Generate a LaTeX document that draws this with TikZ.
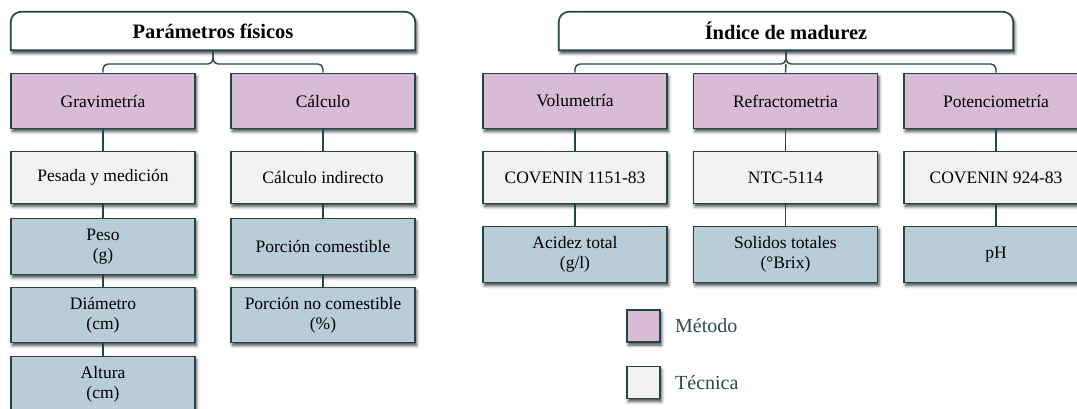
\documentclass[tikz,border=0pt]{standalone}
\usepackage{fontspec}
\setmainfont{Liberation Serif}
\usetikzlibrary{shadows.blur}

\definecolor{metodo}{HTML}{D8BBD5}
\definecolor{tecnica}{HTML}{F2F2F2}
\definecolor{medida}{HTML}{B8CDD8}
\definecolor{edge}{HTML}{244545}
\definecolor{legtext}{HTML}{2B4B4B}

\tikzset{
  soft/.style={blur shadow={shadow xshift=1.5pt, shadow yshift=-3pt,
      shadow blur radius=3pt, shadow opacity=75}},
  cell/.style={draw=edge, line width=1.7pt, minimum width=184pt, inner sep=0pt,
      align=center, font=\fontsize{17.5}{20}\selectfont, text=black, soft},
  metbox/.style={cell, fill=metodo, minimum height=55pt},
  tecbox/.style={cell, fill=tecnica, minimum height=52pt},
  medbox/.style={cell, fill=medida, minimum height=55pt},
  hdrframe/.style={draw=none, inner sep=0pt, minimum height=38pt},
  hdrline/.style={draw=edge, line width=1.7pt, fill=white, soft},
  hdrtext/.style={font=\fontsize{20.5}{24}\selectfont\bfseries, text=black},
  conn/.style={draw=edge, line width=1.4pt, rounded corners=5pt},
  legbox/.style={draw=edge, line width=1.7pt, minimum width=33pt,
      minimum height=32pt, inner sep=0pt, soft},
  legtxt/.style={anchor=west, inner sep=0pt, text=legtext,
      font=\fontsize{20}{24}\selectfont},
}

\newcommand{\headerframe}[1]{%
  \path[hdrline] (#1.south west) -- ([yshift=-10pt]#1.north west)
    arc[start angle=180, end angle=90, radius=10pt]
    -- ([xshift=-10pt]#1.north east)
    arc[start angle=90, end angle=0, radius=10pt]
    -- (#1.south east) -- cycle;}

\begin{document}
\begin{tikzpicture}[x=1pt, y=-1pt]
\useasboundingbox (0,0) rectangle (1077,408);

% ---------- Parámetros físicos ----------
\node[hdrframe, minimum width=404pt] (hL) at (213,31) {};
\headerframe{hL}
\node[hdrtext] (hLt) at (hL) {Parámetros físicos};

\node[metbox] (grav) at (103,101) {Gravimetría};
\node[metbox] (calc) at (323,101) {Cálculo};

\node[tecbox] (pesada) at (103,177.5) {Pesada y medición};
\node[tecbox] (indir)  at (323,177.5) {Cálculo indirecto};

\node[medbox, minimum height=56pt] (peso) at (103,246.5) {Peso\\(g)};
\node[medbox] (diam)  at (103,315) {Diámetro\\(cm)};
\node[medbox] (alt)   at (103,384) {Altura\\(cm)};
\node[medbox, minimum height=56pt] (comes) at (323,246.5) {Porción comestible};
\node[medbox] (nocom) at (323,315) {Porción no comestible\\(\%)};

\coordinate (jL) at (hL.south |- 0,64);
\draw[conn] (hL.south) -- (jL) -| (grav.north);
\draw[conn] (hL.south) -- (jL) -| (calc.north);
\draw[conn] (grav.south) -- (pesada.north);
\draw[conn] (pesada.south) -- (peso.north);
\draw[conn] (peso.south) -- (diam.north);
\draw[conn] (diam.south) -- (alt.north);
\draw[conn] (calc.south) -- (indir.north);
\draw[conn] (indir.south) -- (comes.north);
\draw[conn] (comes.south) -- (nocom.north);

% ---------- Índice de madurez ----------
\node[hdrframe, minimum width=454pt] (hR) at (786,31) {};
\headerframe{hR}
\node[hdrtext] (hRt) at (hR) {Índice de madurez};

\node[metbox] (vol) at (575,101) {Volumetría};
\node[metbox] (ref) at (785.5,101) {Refractometria};
\node[metbox] (pot) at (996,101) {Potenciometría};

\node[tecbox] (cov1) at (575,177.5) {COVENIN 1151-83};
\node[tecbox] (ntc)  at (785.5,177.5) {NTC-5114};
\node[tecbox] (cov2) at (996,177.5) {COVENIN 924-83};

\node[medbox, minimum height=56pt] (acid) at (575,254.5) {Acidez total\\(g/l)};
\node[medbox, minimum height=56pt] (sol)  at (785.5,254.5) {Solidos totales\\(°Brix)};
\node[medbox, minimum height=56pt] (ph)   at (996,254.5) {pH};

\coordinate (jR) at (hR.south |- 0,64);
\draw[conn] (hR.south) -- (jR) -| (vol.north);
\draw[conn] (hR.south) -- (jR) -| (pot.north);
\draw[conn] (jR) -- (ref.north);
\draw[conn] (vol.south) -- (cov1.north);
\draw[conn] (ref.south) -- (ntc.north);
\draw[conn] (pot.south) -- (cov2.north);
\draw[conn] (cov1.south) -- (acid.north);
\draw[conn] (ntc.south) -- (sol.north);
\draw[conn] (cov2.south) -- (ph.north);

% ---------- Leyenda ----------
\node[legbox, fill=metodo]  (lm) at (643.5,326) {};
\node[legbox, fill=tecnica] (lt) at (643.5,382.5) {};
\node[legtxt] (lmt) at (675,326) {Método};
\node[legtxt] (ltt) at (675,382.5) {Técnica};
\end{tikzpicture}
\end{document}
